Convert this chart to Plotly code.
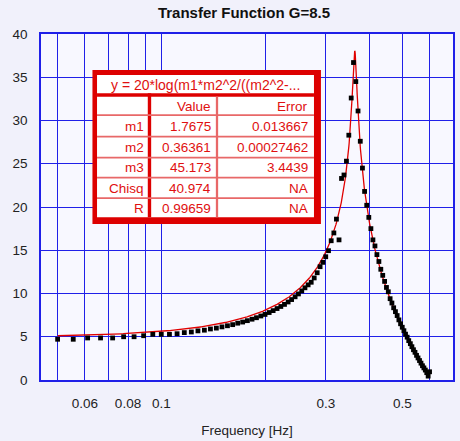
import numpy as np
import plotly.graph_objects as go

# Measured transfer function (frequency in Hz, gain in dB)
freq = [
    0.0500, 0.0555, 0.0611, 0.0666, 0.0722, 0.0777, 0.0833, 0.0888, 0.0944, 0.0999,
    0.1055, 0.1110, 0.1165, 0.1221, 0.1276, 0.1332, 0.1387, 0.1443, 0.1498, 0.1554,
    0.1609, 0.1664, 0.1720, 0.1775, 0.1831, 0.1886, 0.1942, 0.1997, 0.2053, 0.2108,
    0.2164, 0.2219, 0.2274, 0.2330, 0.2385, 0.2441, 0.2496, 0.2552, 0.2607, 0.2663,
    0.2718, 0.2773, 0.2829, 0.2884, 0.2940, 0.2995, 0.3051, 0.3106, 0.3162, 0.3217,
    0.3273, 0.3328, 0.3383, 0.3439, 0.3494, 0.3550, 0.3605, 0.3661, 0.3716, 0.3772,
    0.3827, 0.3882, 0.3938, 0.3993, 0.4049, 0.4104, 0.4160, 0.4215, 0.4271, 0.4326,
    0.4382, 0.4437, 0.4492, 0.4548, 0.4603, 0.4659, 0.4714, 0.4770, 0.4825, 0.4881,
    0.4936, 0.4992, 0.5047, 0.5102, 0.5158, 0.5213, 0.5269, 0.5324, 0.5380, 0.5435,
    0.5491, 0.5546, 0.5602, 0.5657, 0.5713, 0.5768, 0.5823, 0.5879, 0.5934, 0.5990,
]
gain_db = [
    4.71, 4.71, 4.86, 4.86, 4.86, 5.00, 5.00, 5.12, 5.28, 5.28,
    5.28, 5.35, 5.48, 5.55, 5.68, 5.76, 5.90, 6.00, 6.14, 6.27,
    6.40, 6.57, 6.70, 6.86, 7.03, 7.20, 7.40, 7.58, 7.80, 8.02,
    8.26, 8.50, 8.74, 9.02, 9.30, 9.62, 9.95, 10.30, 10.66, 11.00,
    11.30, 11.80, 12.40, 13.10, 13.60, 14.25, 14.95, 16.10, 17.00, 18.60,
    16.20, 23.30, 23.70, 25.30, 28.30, 32.60, 36.70, 34.50, 31.10, 27.60,
    24.50, 21.80, 20.20, 18.80, 17.50, 16.20, 15.50, 14.50, 13.70, 12.80,
    12.10, 11.40, 10.70, 10.20, 9.40, 8.90, 8.35, 7.90, 7.45, 6.95,
    6.50, 6.10, 5.70, 5.30, 4.95, 4.55, 4.20, 3.85, 3.50, 3.20,
    2.85, 2.55, 2.25, 1.95, 1.65, 1.40, 1.15, 0.85, 0.45, 0.95,
]

# Fit results
param_names = ["m1", "m2", "m3", "Chisq", "R"]
param_values = ["1.7675", "0.36361", "45.173", "40.974", "0.99659"]
param_errors = ["0.013667", "0.00027462", "3.4439", "NA", "NA"]
fit_formula = "y = 20*log(m1*m2^2/((m2^2-..."

# Axis ticks
x_grid = [0.05, 0.06, 0.07, 0.08, 0.09, 0.1, 0.2, 0.3, 0.4, 0.5, 0.6, 0.7]
x_labels = ["", "0.06", "", "0.08", "", "0.1", "", "0.3", "", "0.5", "", ""]
y_ticks = [0, 5, 10, 15, 20, 25, 30, 35, 40]

# Fitted curve from the reported parameters
m1, m2, m3 = (float(v) for v in param_values[:3])
f_fit = np.linspace(min(freq), max(freq), 800)
g_fit = m1 * m2**2 / np.sqrt((m2**2 - f_fit**2) ** 2 + (m2 * f_fit / m3) ** 2)
db_fit = 20 * np.log10(g_fit)

W, H = 460, 441
L, R, T, B = 41, 5, 34, 61
PW, PH = W - L - R, H - T - B

def px_x(p):
    return (p - L) / PW

def px_y(p):
    return (H - B - p) / PH

FONT = "Liberation Sans, Arial, sans-serif"
BLUE = "#2020e8"
RED = "#dd0000"
PINK = "#e86868"
TXT_RED = "#e01010"

fig = go.Figure()
fig.add_trace(go.Scatter(
    x=f_fit, y=db_fit, mode="lines",
    line=dict(color="#e00000", width=1.3), showlegend=False, hoverinfo="skip",
))
fig.add_trace(go.Scatter(
    x=freq, y=gain_db, mode="markers",
    marker=dict(symbol="square", size=4.8, color="black", line=dict(width=0)),
    showlegend=False,
))

# Parameter table drawn as shapes
shapes = []

def rect(x0, y0, x1, y1, color):
    shapes.append(dict(
        type="rect", xref="paper", yref="paper",
        x0=px_x(x0), x1=px_x(x1), y0=px_y(y1), y1=px_y(y0),
        fillcolor=color, line=dict(width=0), layer="above",
    ))

rect(92.7, 70, 322.3, 224, RED)
rect(97.3, 75, 315.3, 217.3, "white")
rect(97.3, 93.3, 315.3, 96.7, RED)
rect(148.3, 93.3, 151.7, 217.3, RED)
rect(216.7, 96.7, 219.0, 217.3, PINK)
row_seps = [114.3, 135.7, 156.7, 176.7, 197.3]
for s in row_seps:
    rect(97.3, s, 315.3, s + 1.7, PINK)

annotations = []

def label(text, xpx, ypx, anchor="right", size=13.5):
    annotations.append(dict(
        text=text, xref="paper", yref="paper", x=px_x(xpx), y=px_y(ypx),
        xanchor=anchor, yanchor="middle", showarrow=False,
        font=dict(family=FONT, size=size, color=TXT_RED),
    ))

label(fit_formula, 206.3, 84.5, anchor="center", size=14)
label("Value", 213.5, 106)
label("Error", 311, 106)
row_y = [126.5, 147.2, 167.6, 188.2, 208.8]
for name, val, err, yy in zip(param_names, param_values, param_errors, row_y):
    label(name, 147, yy)
    label(val, 213.5, yy)
    label(err, 311, yy)

fig.update_layout(
    width=W, height=H, autosize=False,
    margin=dict(l=L, r=R, t=T, b=B, pad=0),
    paper_bgcolor="#f1f1fb", plot_bgcolor="#f8f8ff",
    font=dict(family=FONT, color="#222222", size=13.5),
    title=dict(
        text="<b>Transfer Function G=8.5</b>", xref="container", yref="container",
        x=244 / W, y=1 - 13 / H, xanchor="center", yanchor="middle",
        font=dict(family=FONT, size=15, color="#111111"),
    ),
    xaxis=dict(
        type="log", range=[np.log10(0.04475), np.log10(0.7005)],
        tickmode="array", tickvals=x_grid, ticktext=x_labels,
        showgrid=True, gridcolor=BLUE, gridwidth=1.4,
        showline=True, linecolor=BLUE, linewidth=1.6, mirror=True,
        ticks="", zeroline=False, ticklabelstandoff=10,
        tickfont=dict(family=FONT, size=13.5, color="#222222"),
        title=dict(text="Frequency [Hz]", standoff=16,
                   font=dict(family=FONT, size=13.5, color="#222222")),
    ),
    yaxis=dict(
        range=[0, 40], tickmode="array", tickvals=y_ticks,
        showgrid=True, gridcolor=BLUE, gridwidth=1.4,
        showline=True, linecolor=BLUE, linewidth=1.6, mirror=True,
        ticks="", zeroline=False, ticklabelstandoff=9,
        tickfont=dict(family=FONT, size=13.5, color="#222222"),
    ),
    shapes=shapes, annotations=annotations,
)

fig.write_html("out.html")
